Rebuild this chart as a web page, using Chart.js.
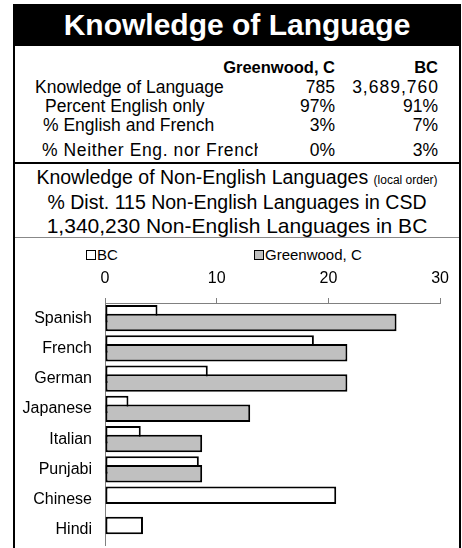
<!DOCTYPE html>
<html>
<head>
<meta charset="utf-8">
<script src="https://cdn.jsdelivr.net/npm/chart.js@4/dist/chart.umd.min.js"></script>
<style>
  body { margin: 0; background: #fff; font-family: "Liberation Sans", Arial, sans-serif; color: #000; }
  #page { position: relative; width: 462px; height: 548px; overflow: hidden; }
  .abs { position: absolute; white-space: nowrap; }
  #frame { left: 13px; top: 4px; width: 448px; height: 600px; box-sizing: border-box;
           border-left: 2px solid #000; border-right: 2px solid #000; }
  #title { left: 13px; top: 4px; width: 448px; height: 42px; background: #000; color: #fff;
           font-weight: bold; font-size: 30px; line-height: 42px; text-align: center; }
  .row { left: 15px; width: 444px; height: 20px; font-size: 17.5px; line-height: 20px; }
  .row .lab { position: absolute; top: 0; overflow: hidden; }
  .row .c1 { position: absolute; top: 0; right: 124px; }
  .row .c2 { position: absolute; top: 0; right: 21px; }
  .row.head { font-weight: bold; font-size: 16.5px; }
  .sub { left: 15px; width: 444px; text-align: center; font-size: 19.5px; height: 24px; line-height: 24px; }
  .sub small { font-size: 12px; }
  .legend { font-size: 15px; height: 18px; line-height: 18px; }
  .legend i { display: inline-block; width: 8px; height: 8px; border: 1px solid #000;
              vertical-align: 0px; margin-right: 1px; }
  #chartBox { left: 15px; top: 265px; }
</style>
</head>
<body>
<div id="page">
  <div class="abs" id="frame"></div>
  <div class="abs" id="title">Knowledge of Language</div>

  <div class="abs row head" style="top:57px"><span class="c1">Greenwood, C</span><span class="c2">BC</span></div>
  <div class="abs row" style="top:77px"><span class="lab" style="left:20px">Knowledge of Language</span><span class="c1">785</span><span class="c2" style="letter-spacing:1px;right:20px">3,689,760</span></div>
  <div class="abs row" style="top:96px"><span class="lab" style="left:30px">Percent English only</span><span class="c1">97%</span><span class="c2">91%</span></div>
  <div class="abs row" style="top:115px"><span class="lab" style="left:28px">% English and French</span><span class="c1">3%</span><span class="c2">7%</span></div>
  <div class="abs row" style="top:140px"><span class="lab" style="left:27px;width:216px;letter-spacing:0.6px">% Neither Eng. nor French</span><span class="c1">0%</span><span class="c2">3%</span></div>

  <div class="abs" style="left:13px;top:162px;width:448px;height:2px;background:#000"></div>

  <div class="abs sub" style="top:165px">Knowledge of Non-English Languages <small>(local order)</small></div>
  <div class="abs sub" style="top:190px">% Dist. 115 Non-English Languages in CSD</div>
  <div class="abs sub" style="top:214px;font-size:21px">1,340,230 Non-English Languages in BC</div>

  <div class="abs" style="left:15px;top:237px;width:444px;height:1px;background:#888"></div>

  <div class="abs legend" style="left:86px;top:246px"><i style="background:#fff"></i>BC</div>
  <div class="abs legend" style="left:254px;top:246px"><i style="background:#c0c0c0"></i>Greenwood, C</div>

  <div class="abs" id="chartBox"><canvas id="langChart" width="444" height="283"></canvas></div>
</div>

<script>
// values, % of non-English language knowledge
const languages = ['Spanish', 'French', 'German', 'Japanese', 'Italian', 'Punjabi', 'Chinese', 'Hindi'];
const bcShare = [4.7, 18.7, 9.2, 2.1, 3.2, 8.4, 20.7, 3.4];
const greenwoodShare = [26.1, 21.7, 21.7, 13.0, 8.7, 8.7, 0, 0];
const axisMin = 0;
const axisMax = 30;
const axisStep = 10;

Chart.defaults.font.family = '"Liberation Sans", Arial, sans-serif';
Chart.defaults.color = '#000';

// Excel-style overlap: the Greenwood bar sits on top of the BC bar
const greenwoodOnTop = {
    id: 'greenwoodOnTop',
    beforeDatasetDraw(chart, args) {
        if (args.index === 1) return false;
    },
    afterDatasetsDraw(chart) {
        chart.getDatasetMeta(1).controller.draw();
    }
};

new Chart(document.getElementById('langChart'), {
    type: 'bar',
    data: {
        labels: languages,
        datasets: [
            {
                label: 'BC',
                data: bcShare,
                backgroundColor: '#ffffff',
                borderColor: '#000000',
                borderWidth: 2,
                borderSkipped: false
            },
            {
                label: 'Greenwood, C',
                data: greenwoodShare,
                backgroundColor: '#c0c0c0',
                borderColor: '#000000',
                borderWidth: 2,
                borderSkipped: false
            }
        ]
    },
    options: {
        indexAxis: 'y',
        responsive: false,
        animation: false,
        categoryPercentage: 0.57,
        barPercentage: 2.03,
        layout: { padding: { top: 0, right: 18, bottom: 3, left: 0 } },
        plugins: {
            legend: { display: false },
            tooltip: { enabled: false }
        },
        scales: {
            x: {
                position: 'top',
                min: axisMin,
                max: axisMax,
                border: { color: '#808080', width: 1 },
                grid: { drawOnChartArea: false, drawTicks: true, tickLength: 5, color: '#808080' },
                ticks: { stepSize: axisStep, padding: 10, font: { size: 16 } },
                afterFit: s => { s.height = 38; }
            },
            y: {
                border: { color: '#808080', width: 1 },
                grid: { drawOnChartArea: false, drawTicks: false },
                ticks: { padding: 13, font: { size: 16 } },
                afterFit: s => { s.width = 90; s.paddingTop = 0; s.paddingBottom = 0; }
            }
        }
    },
    plugins: [greenwoodOnTop]
});
</script>
</body>
</html>
